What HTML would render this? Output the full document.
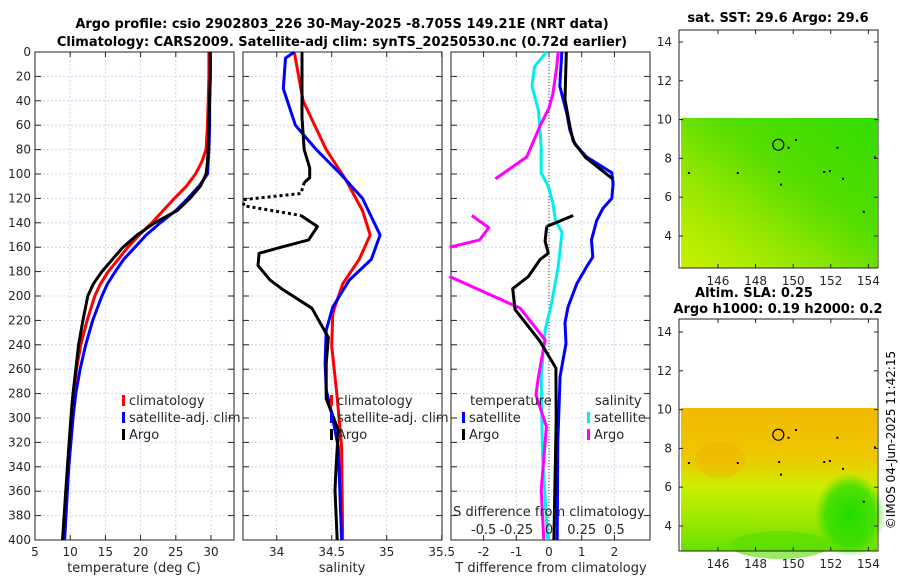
<!DOCTYPE html>
<html><head><meta charset="utf-8"><style>
body{margin:0;background:#fff;width:900px;height:580px;overflow:hidden;font-family:"DejaVu Sans","Liberation Sans",sans-serif}
svg text{font-family:"DejaVu Sans","Liberation Sans",sans-serif}
</style></head><body>
<svg id="fig" width="900" height="580" viewBox="0 0 900 580" xmlns="http://www.w3.org/2000/svg">
<defs>
<linearGradient id="g1" x1="0" y1="1" x2="1" y2="0"><stop offset="0" stop-color="#ccf000"/><stop offset="0.3" stop-color="#99e800"/><stop offset="0.6" stop-color="#55dd00"/><stop offset="1" stop-color="#33dd00"/></linearGradient>
<linearGradient id="g2" x1="0" y1="0" x2="0" y2="1"><stop offset="0" stop-color="#f2b800"/><stop offset="0.35" stop-color="#eec800"/><stop offset="0.55" stop-color="#ccee00"/><stop offset="0.8" stop-color="#99e800"/><stop offset="1" stop-color="#66e000"/></linearGradient>
<radialGradient id="g3" cx="0.5" cy="0.5" r="0.5"><stop offset="0" stop-color="#22dd00"/><stop offset="0.7" stop-color="#33dd00" stop-opacity="0.8"/><stop offset="1" stop-color="#44dd00" stop-opacity="0"/></radialGradient>
</defs>
<text x="342" y="28" text-anchor="middle" font-size="13" font-weight="bold">Argo profile: csio 2902803_226 30-May-2025 -8.705S 149.21E (NRT data)</text>
<text x="342" y="46" text-anchor="middle" font-size="13" font-weight="bold">Climatology: CARS2009. Satellite-adj clim: synTS_20250530.nc (0.72d earlier)</text>
<g id="p1"></g>
<g id="p2"></g>
<g id="p3"></g>
<g id="m1">
<text x="778" y="22" text-anchor="middle" font-size="13" font-weight="bold">sat. SST: 29.6 Argo: 29.6</text>
<rect x="681" y="118" width="196" height="150" fill="url(#g1)"/>
</g>
<g id="m2">
<text x="754" y="297" text-anchor="middle" font-size="13" font-weight="bold">Altim. SLA: 0.25</text>
<text x="778" y="313" text-anchor="middle" font-size="13" font-weight="bold">Argo h1000: 0.19 h2000: 0.2</text>
<rect x="681" y="408" width="196" height="143" fill="url(#g2)"/>
<ellipse cx="850" cy="515" rx="35" ry="42" fill="url(#g3)"/>
<ellipse cx="780" cy="545" rx="50" ry="14" fill="#55dd00" opacity="0.6"/>
<ellipse cx="720" cy="460" rx="25" ry="18" fill="#f0b000" opacity="0.4"/>
</g>
<text transform="translate(895,440) rotate(-90)" text-anchor="middle" font-size="12">©IMOS 04-Jun-2025 11:42:15</text>
</svg>
<script>
const depths=[0,20,40,60,80,90,100,110,120,130,140,150,160,170,180,190,200,220,240,260,280,300,340,400];
const tClim=[29.7,29.7,29.6,29.5,29.3,28.7,27.8,26.5,24.8,23.2,21.6,19.8,18.2,16.8,15.4,14.3,13.5,12.4,11.5,10.9,10.5,10.2,9.7,9.0];
const tSat=[29.9,29.9,29.8,29.8,29.7,29.6,29.5,28.3,26.7,25,22.8,20.8,19.2,17.6,16.4,15.3,14.5,13.2,12.2,11.4,10.8,10.4,9.8,9.2];
const tArgo=[29.9,29.9,29.8,29.7,29.6,29.5,29.3,28.5,27,25.2,22,19.5,17.5,16,14.5,13.3,12.5,11.8,11.2,10.8,10.4,10.1,9.6,8.9];
const sDepthsClim=[0,40,80,105,130,150,170,190,214,241,283,324,400];
const sClim=[34.16,34.24,34.45,34.63,34.78,34.85,34.75,34.6,34.51,34.5,34.55,34.59,34.6];
const sDepthsSat=[0,5,30,60,80,100,120,150,170,187,209,228,255,277,296,324,400];
const sSat=[34.16,34.08,34.06,34.17,34.36,34.58,34.78,34.94,34.86,34.66,34.51,34.45,34.44,34.45,34.5,34.56,34.59];
const sDepthsArgo=[0,54,80,95,103,107,116,121,126,134,143,154,160,165,175,187,195,210,234,255,284,310,340,359,400];
const sArgo=[34.23,34.23,34.25,34.3,34.3,34.25,34.22,33.7,33.7,34.22,34.37,34.29,34.04,33.84,33.83,33.94,34.06,34.32,34.47,34.45,34.45,34.56,34.54,34.53,34.55];
const sArgoDotted=[0,0,0,0,0,0,1,1,1,0,0,0,0,0,0,0,0,0,0,0,0,0,0,0,0];
const dTSatDepths=[0,28,50,64,76,86,99,108,120,128,138,154,168,176,190,209,222,239,266,320,400];
const dTSat=[0.39,0.33,0.54,0.64,0.8,1.15,1.92,1.96,1.92,1.65,1.46,1.3,1.34,1.15,0.85,0.58,0.49,0.52,0.34,0.27,0.25];
const dTArgoDepths=[0,39,61,73,86,101,104,134,143,155,165,170,184,194,211,237,259,300,400];
const dTArgo=[0.53,0.49,0.64,0.74,1.1,1.8,1.95,null,-0.07,-0.12,-0.02,-0.27,-0.63,-1.11,-1.04,-0.28,0.21,0.22,0.15];
const dTArgoExtra={d:[134,143],v:[0.74,-0.07]};
const dSSatDepths=[0,12,28,48,78,99,110,124,138,148,176,206,228,266,330,400];
const dSSat=[-0.02,-0.11,-0.13,-0.08,-0.06,-0.06,-0.005,0.03,0.05,0.1,0.07,0.02,-0.03,-0.06,-0.05,-0.01];
const dSArgoDepths=[0,12,34,46,61,86,95,104,118,134,144,154,160,172,184,210,236,266,281,307,359,400];
const dSArgo=[0.07,0.06,0.03,0.0,-0.07,-0.17,-0.29,-0.41,null,-0.59,-0.46,-0.53,-0.76,null,-0.76,-0.22,-0.03,-0.08,-0.1,-0.02,-0.06,-0.04];
const depthTicks=[0,20,40,60,80,100,120,140,160,180,200,220,240,260,280,300,320,340,360,380,400];
const tTicks=[5,10,15,20,25,30];
const sTicks=[34,34.5,35,35.5];
const dTTicks=[-2,-1,0,1,2];
const dTTickLabels=["-2","-1","0","1","2"];
const sdTicks=[-0.5,-0.25,0,0.25,0.5];
const latTicks=[4,6,8,10,12,14];
const lonTicks=[146,148,150,152,154];

const NS="http://www.w3.org/2000/svg";
const Y0=52,Y1=540;
const yD=d=>Y0+(d/400)*(Y1-Y0);
function el(p,t,a){const e=document.createElementNS(NS,t);for(const k in a)e.setAttribute(k,a[k]);p.appendChild(e);return e;}
function txt(p,x,y,s,o){const e=el(p,'text',Object.assign({x:x,y:y,'font-size':12,fill:'#262626'},o||{}));e.textContent=s;return e;}

function frame(g,x0,x1,xs,xticks,xlabels,showY,name){
  for(const d of depthTicks){if(d>0&&d<400){const l=el(g,'line',{x1:x0,x2:x1,y1:yD(d),y2:yD(d),stroke:'#c8cce8','stroke-dasharray':'2,2','stroke-width':0.8});}}
  xticks.forEach((v,i)=>{const x=xs(v);if(x>x0+1&&x<x1-1){const l=el(g,'line',{x1:x,x2:x,y1:Y0,y2:Y1,stroke:'#c8cce8','stroke-dasharray':'2,2','stroke-width':0.8});}
    el(g,'line',{x1:x,x2:x,y1:Y1,y2:Y1-5,stroke:'#222'});el(g,'line',{x1:x,x2:x,y1:Y0,y2:Y0+5,stroke:'#222'});
    const t=txt(g,x,Y1+16,xlabels[i],{'text-anchor':'middle'});});
  for(const d of depthTicks){el(g,'line',{x1:x0,x2:x0+6,y1:yD(d),y2:yD(d),stroke:'#222'});el(g,'line',{x1:x1,x2:x1-6,y1:yD(d),y2:yD(d),stroke:'#222'});
    if(showY){const t=txt(g,x0-4,yD(d)+4,String(d),{'text-anchor':'end'});}}
  const r=el(g,'rect',{x:x0,y:Y0,width:x1-x0,height:Y1-Y0,fill:'none',stroke:'#222','stroke-width':1});
  
}
function line(g,xs,ds,vs,color,name,dash){
  let segs=[],cur=[];
  ds.forEach((d,i)=>{if(vs[i]===null){if(cur.length)segs.push(cur);cur=[];}else cur.push(xs(vs[i]).toFixed(1)+','+yD(d).toFixed(1));});
  if(cur.length)segs.push(cur);
  segs.forEach(s=>{const p=el(g,'polyline',{points:s.join(' '),fill:'none',stroke:color,'stroke-width':3,'stroke-linejoin':'round'});if(dash)p.setAttribute('stroke-dasharray',dash);
    });
}
function legend(g,x,y,items,name){items.forEach((it,i)=>{const yy=y+i*17;el(g,'rect',{x:x,y:yy-9,width:3,height:11,fill:it[1]});const t=txt(g,x+7,yy+1,it[0],{'font-size':13});});}

// panel 1
const p1=document.getElementById('p1');
const xT=v=>35+(v-5)*7.04;
frame(p1,35,234,xT,tTicks,tTicks.map(String),true,'temperature');
line(p1,xT,depths,tClim,'#ff0000','climatology-temperature-line');
line(p1,xT,depths,tSat,'#0000ff','satellite-temperature-line');
line(p1,xT,depths,tArgo,'#000000','argo-temperature-line');
{const t=txt(p1,134,572,'temperature (deg C)',{'text-anchor':'middle','font-size':13});}
legend(p1,122,404,[['climatology','#ff0000'],['satellite-adj. clim','#0000ff'],['Argo','#000']],'temperature-legend');

// panel 2
const p2=document.getElementById('p2');
const xS=v=>276.7+(v-34)*110;
frame(p2,243,442,xS,sTicks,sTicks.map(String),false,'salinity');
line(p2,xS,sDepthsClim,sClim,'#ff0000','climatology-salinity-line');
line(p2,xS,sDepthsSat,sSat,'#0000ff','satellite-salinity-line');
{const sv=[],dv=[];
 sArgo.forEach((v,i)=>{const dot=sArgoDotted[i];const edge=(sArgoDotted[i-1]===1||sArgoDotted[i+1]===1);
   sv.push(dot?null:v); dv.push(dot||edge?v:null);});
 line(p2,xS,sDepthsArgo,sv,'#000','argo-salinity-line');
 line(p2,xS,sDepthsArgo,dv,'#000','argo-salinity-flagged-line','3,3');}
{const t=txt(p2,342,572,'salinity',{'text-anchor':'middle','font-size':13});}
legend(p2,330,404,[['climatology','#ff0000'],['satellite-adj. clim','#0000ff'],['Argo','#000']],'salinity-legend');

// panel 3
const p3=document.getElementById('p3');
const xDT=v=>549+v*32.7;
const xDS=v=>549+v*130.8;
frame(p3,451,650,xDT,dTTicks,dTTickLabels,false,'difference');
{const z=el(p3,'line',{x1:549,x2:549,y1:Y0,y2:Y1,stroke:'#444','stroke-dasharray':'1,2'});}
line(p3,xDS,dSSatDepths,dSSat,'#00eeee','satellite-salinity-diff-line');
line(p3,xDS,dSArgoDepths,dSArgo,'#ff00ff','argo-salinity-diff-line');
line(p3,xDT,dTSatDepths,dTSat,'#0000ff','satellite-temperature-diff-line');
line(p3,xDT,dTArgoDepths,dTArgo,'#000','argo-temperature-diff-line');
line(p3,xDT,dTArgoExtra.d,dTArgoExtra.v,'#000','argo-temperature-diff-line');
{const t=txt(p3,551,572,'T difference from climatology',{'text-anchor':'middle','font-size':13});}
{const t=txt(p3,549,516,'S difference from climatology',{'text-anchor':'middle','font-size':13});}
sdTicks.forEach(v=>{const t=txt(p3,xDS(v),534,String(v),{'text-anchor':'middle','font-size':13});});
txt(p3,470,405,'temperature',{'font-size':13});
txt(p3,595,405,'salinity',{'font-size':13});
legend(p3,462,421,[['satellite','#0000ff'],['Argo','#000']],'t-diff-legend');
legend(p3,587,421,[['satellite','#00eeee'],['Argo','#ff00ff']],'s-diff-legend');

// maps
function mapFrame(g,top,bottom,lat14,name){
  const yL=v=>lat14+(14-v)*19.4, xL=v=>680+(v-143.98)*18.8;
  latTicks.forEach(v=>{const y=yL(v);el(g,'line',{x1:679,x2:683,y1:y,y2:y,stroke:'#222'});el(g,'line',{x1:878,x2:874,y1:y,y2:y,stroke:'#222'});
    const t=txt(g,672,y+4,String(v),{'text-anchor':'end'});});
  lonTicks.forEach(v=>{const x=xL(v);el(g,'line',{x1:x,x2:x,y1:bottom,y2:bottom-4,stroke:'#222'});el(g,'line',{x1:x,x2:x,y1:top,y2:top+4,stroke:'#222'});
    const t=txt(g,x,bottom+17,String(v),{'text-anchor':'middle'});});
  const r=el(g,'rect',{x:679,y:top,width:199,height:bottom-top,fill:'none',stroke:'#222'});
  const c=el(g,'circle',{cx:xL(149.21),cy:yL(8.705),r:5.5,fill:'none',stroke:'#000','stroke-width':1.2});
  [[150.1,9],[149.7,8.6],[152.3,8.6],[154.3,8.1],[144.4,7.3],[147,7.3],[149.2,7.35],[151.6,7.35],[151.9,7.4],[152.6,7],[149.3,6.7],[153.7,5.3]].forEach(p=>el(g,'rect',{x:xL(p[0]),y:yL(p[1]),width:2,height:2,fill:'#000'}));
}
mapFrame(document.getElementById('m1'),30,268,42,'sst-map');
mapFrame(document.getElementById('m2'),319,551,332,'sla-map');
</script>
</body></html>
